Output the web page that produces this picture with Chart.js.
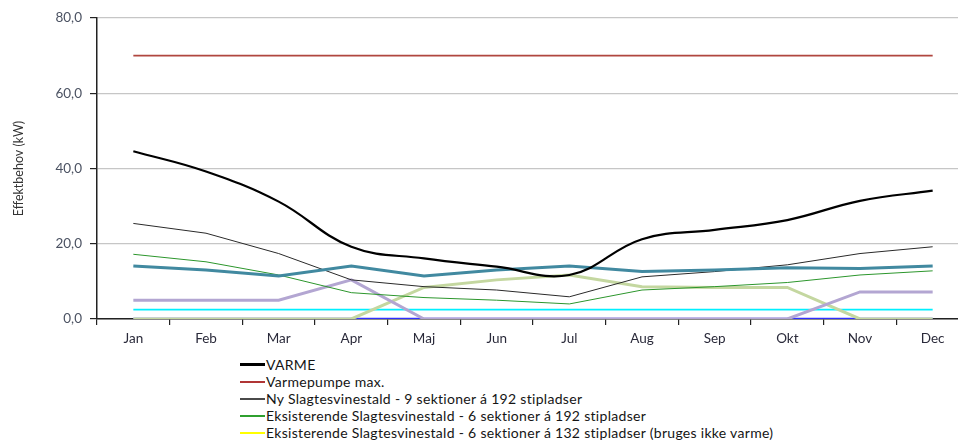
<!DOCTYPE html>
<html>
<head>
<meta charset="utf-8">
<script src="https://cdn.jsdelivr.net/npm/chart.js@4/dist/chart.umd.min.js"></script>
<style>
  html, body { margin: 0; padding: 0; background: #fff; overflow: hidden; width: 958px; height: 443px; }
  #wrap { position: absolute; left: 0; top: 0; width: 972px; height: 355px; }
  #legend { position: absolute; left: 240px; top: 356px; font-family: Lato, "Liberation Sans", sans-serif; font-size: 14px; letter-spacing: 0.3px; color: #151515; }
  .li { height: 17px; line-height: 17px; white-space: nowrap; display: flex; align-items: center; }
  .sw { display: inline-block; width: 25px; margin-right: 1px; }
</style>
</head>
<body>
<div id="wrap"><canvas id="c"></canvas></div>
<div id="legend"></div>
<script>
const months = ["Jan","Feb","Mar","Apr","Maj","Jun","Jul","Aug","Sep","Okt","Nov","Dec"];
const yTicks = [0, 20, 40, 60, 80];

const varme      = [44.6, 39.2, 31.2, 19.2, 16.1, 13.9, 11.7, 21.2, 23.7, 26.3, 31.4, 34.1];
const pumpeMax   = [70, 70, 70, 70, 70, 70, 70, 70, 70, 70, 70, 70];
const nyStald    = [25.4, 22.8, 17.4, 10.4, 8.6, 7.7, 5.9, 11.2, 12.6, 14.4, 17.4, 19.2];
const eks192     = [17.2, 15.2, 11.7, 7.0, 5.7, 5.0, 4.0, 7.7, 8.6, 9.7, 11.7, 12.8];
const eks132     = [0, 0, 0, 0, 0, 0, 0, 0, 0, 0, 0, 0];
const tealSerie  = [14.1, 13.0, 11.4, 14.1, 11.4, 13.0, 14.1, 12.6, 13.0, 13.6, 13.4, 14.1];
const lavSerie   = [5.0, 5.0, 5.0, 10.4, 0, 0, 0, 0, 0, 0, 7.2, 7.2];
const cyanSerie  = [2.5, 2.5, 2.5, 2.5, 2.5, 2.5, 2.5, 2.5, 2.5, 2.5, 2.5, 2.5];
const lgSerie    = [0, 0, 0, 0, 8.4, 10.4, 11.7, 8.6, 8.4, 8.4, 0, 0];
const blueSerie  = [0, 0, 0, 0, 0, 0, 0, 0, 0, 0, 0, 0];

const FONT = 'Lato, "Liberation Sans", sans-serif';

function ds(label, data, color, width, order, extra) {
  return Object.assign({
    label, data, borderColor: color, backgroundColor: color, borderWidth: width,
    pointRadius: 0, pointHoverRadius: 0, tension: 0, fill: false, order
  }, extra || {});
}

const datasets = [
  ds("VARME", varme, "#000000", 2.2, 0, { tension: 0.4, legendWidth: 3, legendColor: '#000' }),
  ds("Varmepumpe max.", pumpeMax, "#b0463f", 1.8, 1, { legendColor: '#b03535' }),
  ds("Ny Slagtesvinestald - 9 sektioner á 192 stipladser", nyStald, "#2a2a2a", 1, 3, { legendColor: '#4a4a4a' }),
  ds("Eksisterende Slagtesvinestald - 6 sektioner á 192 stipladser", eks192, "#2c962c", 1, 4, { legendColor: '#2fa02f' }),
  ds("Eksisterende Slagtesvinestald - 6 sektioner á 132 stipladser (bruges ikke varme)", eks132, "#ffff00", 1, 9, { legendColor: '#ffff00' }),
  ds("Serie 6", tealSerie, "#4189a0", 3, 2),
  ds("Serie 7", lavSerie, "#b3a6d2", 3, 5),
  ds("Serie 8", cyanSerie, "#00f0ff", 1.6, 7),
  ds("Serie 9", lgSerie, "#c4d7a0", 3, 6),
  ds("Serie 10", blueSerie, "#3030ff", 2.5, 8)
];

const chart = new Chart(document.getElementById('c'), {
  type: 'line',
  data: { labels: months, datasets },
  options: {
    responsive: true,
    maintainAspectRatio: false,
    animation: false,
    layout: { padding: { top: 18, right: 3, left: 0, bottom: 0 } },
    plugins: { legend: { display: false }, tooltip: { enabled: false } },
    scales: {
      x: {
        offset: true,
        grid: { offset: true, drawOnChartArea: false, drawTicks: true, tickLength: 6, tickColor: '#222', lineWidth: 1.2 },
        border: { color: '#222', width: 1.5 },
        ticks: { color: '#2a2a3a', font: { family: FONT, size: 13.5 }, padding: 6, maxRotation: 0, autoSkip: false },
        afterFit: (s) => { s.height = 36; }
      },
      y: {
        min: 0, max: 80,
        afterBuildTicks: (s) => { s.ticks = yTicks.map(v => ({ value: v })); },
        grid: { color: '#c6c6c6', lineWidth: 1.2, drawTicks: true, tickLength: 7, tickColor: '#222' },
        border: { color: '#222', width: 1.5 },
        ticks: {
          color: '#4b5262', font: { family: FONT, size: 13.5 }, padding: 8,
          callback: (v) => Number(v).toFixed(1).replace('.', ',')
        },
        title: { display: true, text: 'Effektbehov (kW)', color: '#333', font: { family: FONT, size: 12.5 }, padding: { top: 11, bottom: 0 } },
        afterFit: (s) => { s.width = 97; }
      }
    }
  }
});

// HTML legend built from the chart's datasets (first five are the visible part)
const leg = document.getElementById('legend');
chart.data.datasets.slice(0, 5).forEach(d => {
  const row = document.createElement('div');
  row.className = 'li';
  const sw = document.createElement('span');
  sw.className = 'sw';
  sw.style.height = (d.legendWidth || 2) + 'px';
  sw.style.background = d.legendColor || d.borderColor;
  const t = document.createElement('span');
  t.textContent = d.label;
  row.appendChild(sw); row.appendChild(t);
  leg.appendChild(row);
});
</script>
</body>
</html>
